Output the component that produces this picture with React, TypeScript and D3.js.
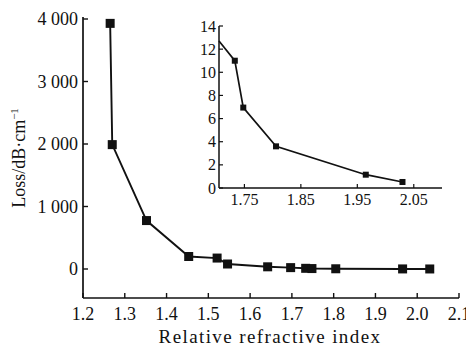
import { useEffect, useRef } from "react";
import * as d3 from "d3";

// main curve: relative refractive index vs loss (dB/cm)
const mainIndex = [1.265, 1.27, 1.352, 1.453, 1.521, 1.546, 1.642, 1.697, 1.733, 1.748, 1.805, 1.965, 2.03];
const mainLoss = [3930, 1990, 775, 200, 175, 80, 35, 22, 11, 7, 3.6, 1.2, 0.5];
const mainXTicks = [1.2, 1.3, 1.4, 1.5, 1.6, 1.7, 1.8, 1.9, 2.0, 2.1];
const mainYTicks = [0, 1000, 2000, 3000, 4000];

// inset (zoom on the tail)
const insetIndex = [1.705, 1.733, 1.748, 1.806, 1.965, 2.03];
const insetLoss = [12.7, 11.0, 6.95, 3.6, 1.15, 0.52];
const insetMarker = [false, true, true, true, true, true];
const insetXTicks = [1.75, 1.85, 1.95, 2.05];
const insetYTicks = [0, 2, 4, 6, 8, 10, 12, 14];

const W = 466;
const H = 348;
const FONT = "'Liberation Serif', 'DejaVu Serif', serif";

const fmtThousands = (v: number) => (v >= 1000 ? `${Math.floor(v / 1000)} ${String(v % 1000).padStart(3, "0")}` : `${v}`);

export default function App() {
  const ref = useRef<SVGSVGElement | null>(null);

  useEffect(() => {
    if (!ref.current) return;
    const svg = d3.select(ref.current);
    svg.selectAll("*").remove();

    svg.append("rect").attr("width", W).attr("height", H).attr("fill", "#fff");

    // ---- main chart ----
    const x = d3.scaleLinear().domain([1.2, 2.1]).range([83, 459]);
    const y = d3.scaleLinear().domain([-464, 4032]).range([298, 17]);

    const g = svg.append("g").attr("font-family", FONT).attr("fill", "#111");

    // axes lines
    g.append("line").attr("x1", x(1.2)).attr("x2", x(1.2)).attr("y1", y.range()[0]).attr("y2", y.range()[1])
      .attr("stroke", "#111").attr("stroke-width", 1.7);
    g.append("line").attr("x1", x(1.2)).attr("x2", x(2.1)).attr("y1", y.range()[0]).attr("y2", y.range()[0])
      .attr("stroke", "#111").attr("stroke-width", 1.7);

    mainYTicks.forEach((t) => {
      g.append("line").attr("x1", x(1.2)).attr("x2", x(1.2) + 5).attr("y1", y(t)).attr("y2", y(t))
        .attr("stroke", "#111").attr("stroke-width", 1.4);
      g.append("text").attr("x", x(1.2) - 5).attr("y", y(t)).attr("dy", "0.35em")
        .attr("text-anchor", "end").attr("font-size", 18).text(fmtThousands(t));
    });
    mainXTicks.forEach((t) => {
      g.append("line").attr("x1", x(t)).attr("x2", x(t)).attr("y1", y.range()[0]).attr("y2", y.range()[0] - 5)
        .attr("stroke", "#111").attr("stroke-width", 1.4);
      g.append("text").attr("x", x(t)).attr("y", 320)
        .attr("text-anchor", "middle").attr("font-size", 18).text(t.toFixed(1));
    });

    g.append("text").attr("x", 270).attr("y", 343).attr("text-anchor", "middle")
      .attr("font-size", 19).attr("letter-spacing", "1.4px").text("Relative refractive index");

    const yl = g.append("text").attr("transform", "translate(25,158) rotate(-90)")
      .attr("text-anchor", "middle").attr("font-size", 18);
    yl.append("tspan").text("Loss/dB·cm");
    yl.append("tspan").attr("dy", -7).attr("font-size", 11).text("−1");

    const mainPts = mainIndex.map((v, i) => [v, mainLoss[i]] as [number, number]);
    const line = d3.line<[number, number]>().x((d) => x(d[0])).y((d) => y(d[1]));
    g.append("path").attr("d", line(mainPts)).attr("fill", "none").attr("stroke", "#111").attr("stroke-width", 1.9);
    g.selectAll(".m").data(mainPts).enter().append("rect")
      .attr("x", (d) => x(d[0]) - 4.5).attr("y", (d) => y(d[1]) - 4.5)
      .attr("width", 9).attr("height", 9).attr("fill", "#111");

    // ---- inset ----
    const ix = d3.scaleLinear().domain([1.705, 2.1]).range([219, 442]);
    const iy = d3.scaleLinear().domain([0, 14]).range([188, 26]);
    const ig = svg.append("g").attr("font-family", FONT).attr("fill", "#111");

    ig.append("line").attr("x1", ix(1.705)).attr("x2", ix(1.705)).attr("y1", iy(0)).attr("y2", iy(14))
      .attr("stroke", "#111").attr("stroke-width", 1.5);
    ig.append("line").attr("x1", ix(1.705)).attr("x2", ix(2.1)).attr("y1", iy(0)).attr("y2", iy(0))
      .attr("stroke", "#111").attr("stroke-width", 1.5);
    insetYTicks.forEach((t) => {
      ig.append("line").attr("x1", ix(1.705)).attr("x2", ix(1.705) + 4).attr("y1", iy(t)).attr("y2", iy(t))
        .attr("stroke", "#111").attr("stroke-width", 1.2);
      ig.append("text").attr("x", ix(1.705) - 3).attr("y", iy(t)).attr("dy", "0.35em")
        .attr("text-anchor", "end").attr("font-size", 16).text(String(t));
    });
    insetXTicks.forEach((t) => {
      ig.append("line").attr("x1", ix(t)).attr("x2", ix(t)).attr("y1", iy(0)).attr("y2", iy(0) - 4)
        .attr("stroke", "#111").attr("stroke-width", 1.2);
      ig.append("text").attr("x", ix(t)).attr("y", 205)
        .attr("text-anchor", "middle").attr("font-size", 16).text(t.toFixed(2));
    });

    const insetPts = insetIndex.map((v, i) => [v, insetLoss[i]] as [number, number]);
    const iline = d3.line<[number, number]>().x((d) => ix(d[0])).y((d) => iy(d[1]));
    ig.append("path").attr("d", iline(insetPts)).attr("fill", "none").attr("stroke", "#111").attr("stroke-width", 1.7);
    ig.selectAll(".im").data(insetPts.filter((_d, i) => insetMarker[i])).enter().append("rect")
      .attr("x", (d) => ix(d[0]) - 3).attr("y", (d) => iy(d[1]) - 3)
      .attr("width", 6).attr("height", 6).attr("fill", "#111");
  }, []);

  return (
    <svg
      ref={ref}
      width={W}
      height={H}
      style={{ position: "absolute", left: 0, top: 0, display: "block" }}
    />
  );
}
